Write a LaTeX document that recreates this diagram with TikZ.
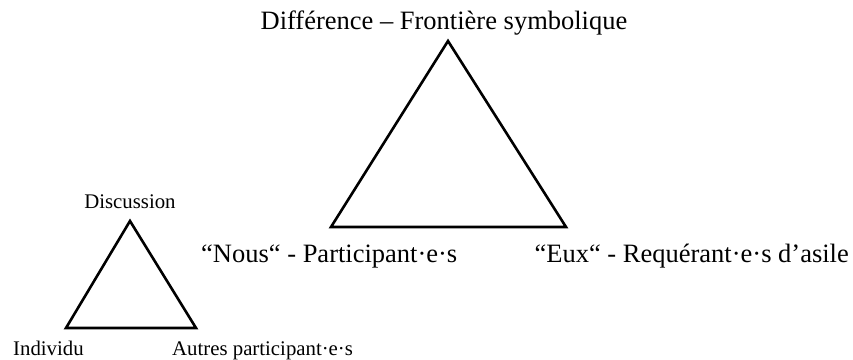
\documentclass[tikz,border=0pt]{standalone}
\usepackage{fontspec}
\setmainfont{Liberation Serif}
\begin{document}
\begin{tikzpicture}[x=1pt,y=-1pt,
  tri/.style={draw=black,line width=2.6pt,line join=miter},
  bigtxt/.style={font=\fontsize{26.5}{30}\selectfont,inner sep=0pt},
  smalltxt/.style={font=\fontsize{20.8}{24}\selectfont,inner sep=0pt}]
\useasboundingbox (0,0) rectangle (853,359);
% big triangle
\coordinate (A) at (448,41);
\coordinate (B) at (331,227);
\coordinate (C) at (566,227);
\draw[tri] (A) -- (B) -- (C) -- cycle;
% small triangle
\coordinate (a) at (130,221);
\coordinate (b) at (66,328);
\coordinate (c) at (196,328);
\draw[tri] (a) -- (b) -- (c) -- cycle;
% labels
\node[bigtxt,anchor=base] (t1) at (444,29) {Différence – Frontière symbolique};
\node[bigtxt,anchor=base west] (t2) at (201,262) {“Nous“ - Participant·e·s};
\node[bigtxt,anchor=base east] (t3) at (849,262) {“Eux“ - Requérant·e·s d’asile};
\node[smalltxt,anchor=base] (s1) at (130,208) {Discussion};
\node[smalltxt,anchor=base west] (s2) at (13,355) {Individu};
\node[smalltxt,anchor=base west] (s3) at (172,355) {Autres participant·e·s};
\end{tikzpicture}
\end{document}
